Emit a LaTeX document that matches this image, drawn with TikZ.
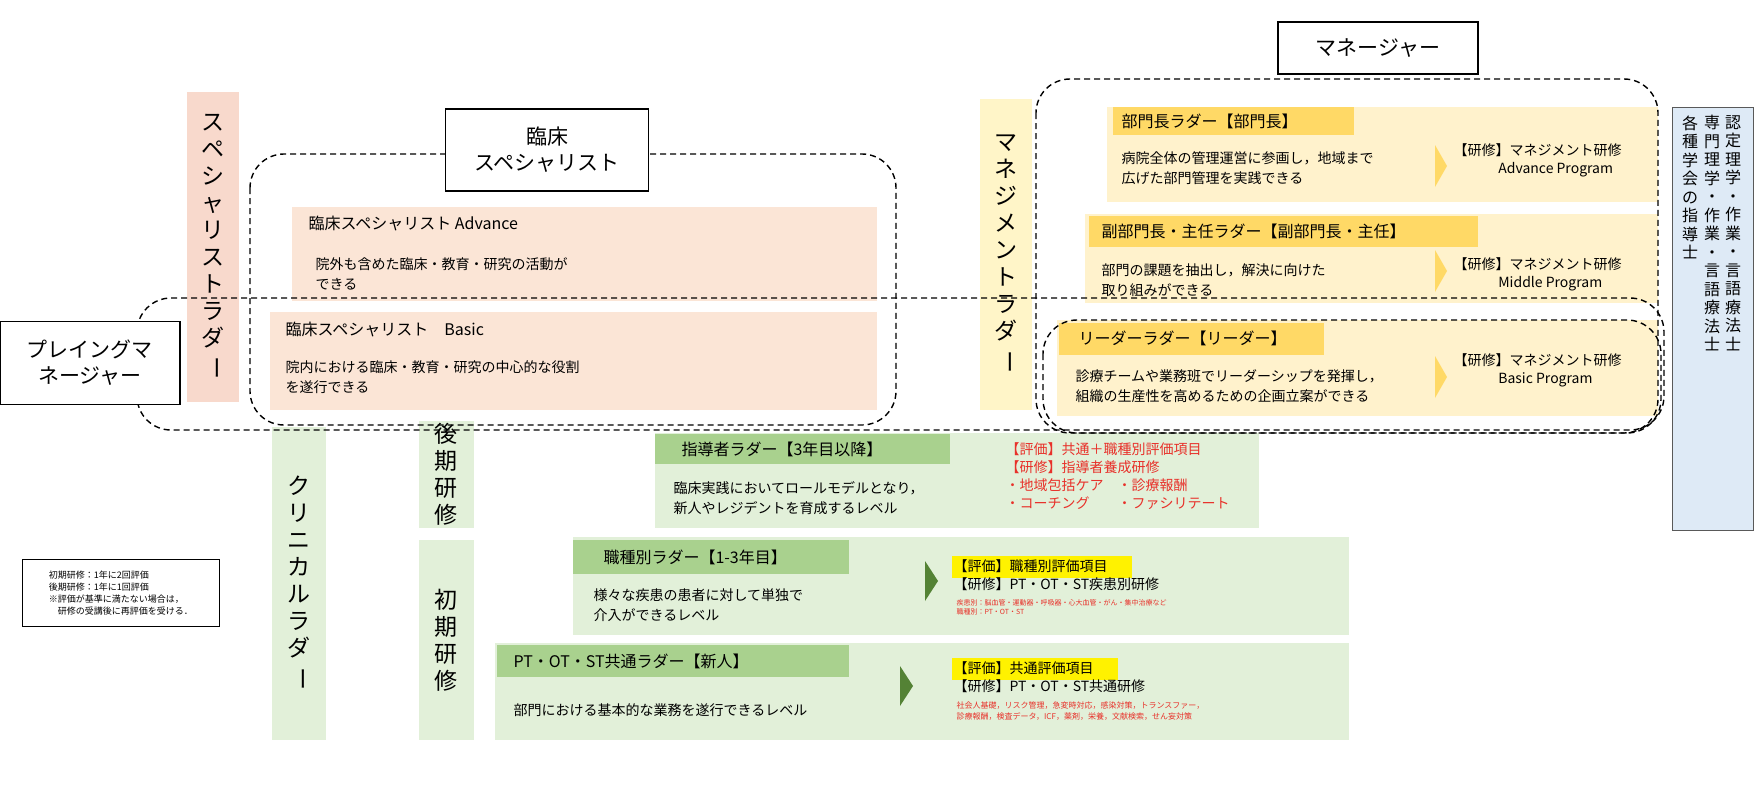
\documentclass[tikz,border=0pt]{standalone}
\usepackage{fontspec}
\setmainfont{Noto Sans CJK JP}
\usetikzlibrary{shapes.geometric}
\newcommand\vl{\rotatebox[origin=c]{-90}{ー}}
\definecolor{sal}{HTML}{FBE5D6}
\definecolor{salS}{HTML}{F8D9CC}
\definecolor{yel}{HTML}{FFF2CC}
\definecolor{yelT}{HTML}{FFD966}
\definecolor{yelS}{HTML}{FFF5C8}
\definecolor{grn}{HTML}{E2F0D9}
\definecolor{grnT}{HTML}{A9D18E}
\definecolor{arr}{HTML}{548235}
\definecolor{blu}{HTML}{DEEAF6}
\definecolor{rd}{HTML}{E8312A}
\begin{document}
\begin{tikzpicture}[x=1pt,y=-1pt,
  dbox/.style={draw=black,dash pattern=on 6pt off 4pt,line width=1.4pt,rounded corners=34pt},
  lbl/.style={draw=black,line width=1.2pt,fill=white,align=center,font=\fontsize{21}{26}\selectfont},
  body/.style={anchor=north west,align=left,font=\fontsize{14}{20}\selectfont},
  ttl/.style={anchor=west,font=\fontsize{16}{20}\selectfont},
  vtxt/.style={align=center,font=\fontsize{23}{27}\selectfont},
  red/.style={anchor=north west,align=left,text=rd},
  chev/.style={fill=#1,draw=none}]
\path[use as bounding box,fill=white] (0,0) rectangle (1763,800);

% strips
\fill[salS] (187,92) rectangle (239,402);
\node[vtxt] (sl) at (213,247) {ス\\ペ\\シ\\ャ\\リ\\ス\\ト\\ラ\\ダ\\\vl};
\fill[yelS] (980,99) rectangle (1032,410);
\node[vtxt] (ml) at (1006,254) {マ\\ネ\\ジ\\メ\\ン\\ト\\ラ\\ダ\\\vl};
\fill[grn] (272,427) rectangle (326,740);
\node[vtxt] (cl) at (299,583) {ク\\リ\\ニ\\カ\\ル\\ラ\\ダ\\\vl};
\fill[grn] (419,421) rectangle (474,528);
\node[vtxt] (kk) at (446,474) {後\\期\\研\\修};
\fill[grn] (419,540) rectangle (474,740);
\node[vtxt] (sk) at (446,640) {初\\期\\研\\修};

% specialist boxes
\fill[sal] (292,207) rectangle (877,301);
\node[ttl] (adv) at (305,223) {臨床スペシャリスト Advance};
\node[body] (advb) at (312,254) {院外も含めた臨床・教育・研究の活動が\\できる};
\fill[sal] (270,312) rectangle (877,410);
\node[ttl] (bas) at (282,329) {臨床スペシャリスト\quad Basic};
\node[body] (basb) at (282,357) {院内における臨床・教育・研究の中心的な役割\\を遂行できる};

% management boxes
\fill[yel] (1107,107) rectangle (1658,202);
\fill[yelT] (1113,107) rectangle (1354,135);
\node[ttl] (m1) at (1118,121) {部門長ラダー【部門長】};
\node[body] (m1b) at (1118,148) {病院全体の管理運営に参画し，地域まで\\広げた部門管理を実践できる};
\fill[yelT] (1435,145) -- (1447,166) -- (1435,187) -- cycle;
\node[body,font=\fontsize{14}{18}\selectfont] (m1r) at (1450,140) {【研修】マネジメント研修\\\hspace*{3.2em}Advance Program};

\fill[yel] (1085,214) rectangle (1658,303);
\fill[yelT] (1089,216) rectangle (1478,247);
\node[ttl] (m2) at (1098,231) {副部門長・主任ラダー【副部門長・主任】};
\node[body] (m2b) at (1098,260) {部門の課題を抽出し，解決に向けた\\取り組みができる};
\fill[yelT] (1435,250) -- (1447,271) -- (1435,292) -- cycle;
\node[body,font=\fontsize{14}{18}\selectfont] (m2r) at (1450,254) {【研修】マネジメント研修\\\hspace*{3.2em}Middle Program};

\fill[yel] (1057,320) rectangle (1658,416);
\fill[yelT] (1059,323) rectangle (1324,355);
\node[ttl] (m3) at (1075,338) {リーダーラダー【リーダー】};
\node[body] (m3b) at (1072,366) {診療チームや業務班でリーダーシップを発揮し，\\組織の生産性を高めるための企画立案ができる};
\fill[yelT] (1435,356) -- (1447,377) -- (1435,398) -- cycle;
\node[body,font=\fontsize{14}{18}\selectfont] (m3r) at (1450,350) {【研修】マネジメント研修\\\hspace*{3.2em}Basic Program};

% clinical boxes
\fill[grn] (655,433) rectangle (1259,528);
\fill[grnT] (655,434) rectangle (950,464);
\node[ttl] (c1) at (678,449) {指導者ラダー【3年目以降】};
\node[body] (c1b) at (670,478) {臨床実践においてロールモデルとなり，\\新人やレジデントを育成するレベル};
\node[red,font=\fontsize{14}{18}\selectfont] (c1r) at (1002,439) {【評価】共通＋職種別評価項目\\【研修】指導者養成研修\\・地域包括ケア\quad・診療報酬\\・コーチング\qquad・ファシリテート};

\fill[grn] (573,537) rectangle (1349,635);
\fill[grnT] (573,540) rectangle (849,574);
\node[ttl] (c2) at (600,557) {職種別ラダー【1-3年目】};
\node[body] (c2b) at (590,585) {様々な疾患の患者に対して単独で\\介入ができるレベル};
\fill[arr] (925,561) -- (938,581) -- (925,601) -- cycle;
\fill[yellow] (952,556) rectangle (1132,578);
\node[body,font=\fontsize{14}{18}\selectfont] (c2r) at (950,556) {【評価】職種別評価項目\\【研修】PT・OT・ST疾患別研修};
\node[red,font=\fontsize{7}{9}\selectfont] (c2s) at (953,596) {疾患別：脳血管・運動器・呼吸器・心大血管・がん・集中治療など\\職種別：PT・OT・ST};

\fill[grn] (495,643) rectangle (1349,740);
\fill[grnT] (497,645) rectangle (849,677);
\node[ttl] (c3) at (510,661) {PT・OT・ST共通ラダー【新人】};
\node[body] (c3b) at (510,700) {部門における基本的な業務を遂行できるレベル};
\fill[arr] (900,666) -- (913,686) -- (900,706) -- cycle;
\fill[yellow] (952,658) rectangle (1118,680);
\node[body,font=\fontsize{14}{18}\selectfont] (c3r) at (950,658) {【評価】共通評価項目\\【研修】PT・OT・ST共通研修};
\node[red,font=\fontsize{8}{11}\selectfont] (c3s) at (953,698) {社会人基礎，リスク管理，急変時対応，感染対策，トランスファー，\\診療報酬，検査データ，ICF，薬剤，栄養，文献検索，せん妄対策};

% right panel
\draw[fill=blu,draw=gray!70!black,line width=0.8pt] (1672,107) rectangle (1753,530);
\node[vtxt,font=\fontsize{16}{18.5}\selectfont,anchor=north] (p1) at (1733,112) {認\\定\\理\\学\\・\\作\\業\\・\\言\\語\\療\\法\\士};
\node[vtxt,font=\fontsize{16}{18.5}\selectfont,anchor=north] (p2) at (1712,112) {専\\門\\理\\学\\・\\作\\業\\・\\言\\語\\療\\法\\士};
\node[vtxt,font=\fontsize{16}{18.5}\selectfont,anchor=north] (p3) at (1690,112) {各\\種\\学\\会\\の\\指\\導\\士};

% note
\node[draw=black,line width=0.8pt,align=left,anchor=north west,inner sep=6pt,font=\fontsize{9}{12}\selectfont,minimum width=197pt,minimum height=67pt] (note) at (22,559) {初期研修：1年に2回評価\\後期研修：1年に1回評価\\※評価が基準に満たない場合は，\\\hspace*{1em}研修の受講後に再評価を受ける．};

% dashed groups
\draw[dbox] (250,154) rectangle (896,425);
\draw[dbox] (137,298) rectangle (1664,430);
\draw[dbox] (1036,79) rectangle (1658,433);
\draw[dbox] (1043,320) rectangle (1661,433);

% labels
\node[lbl,minimum width=203pt,minimum height=82pt] (cs) at (547,150) {臨床\\スペシャリスト};
\node[lbl,minimum width=180pt,minimum height=83pt] (pm) at (90,363) {プレイングマ\\ネージャー};
\node[lbl,minimum width=200pt,minimum height=52pt] (mg) at (1378,48) {マネージャー};
\end{tikzpicture}
\end{document}
